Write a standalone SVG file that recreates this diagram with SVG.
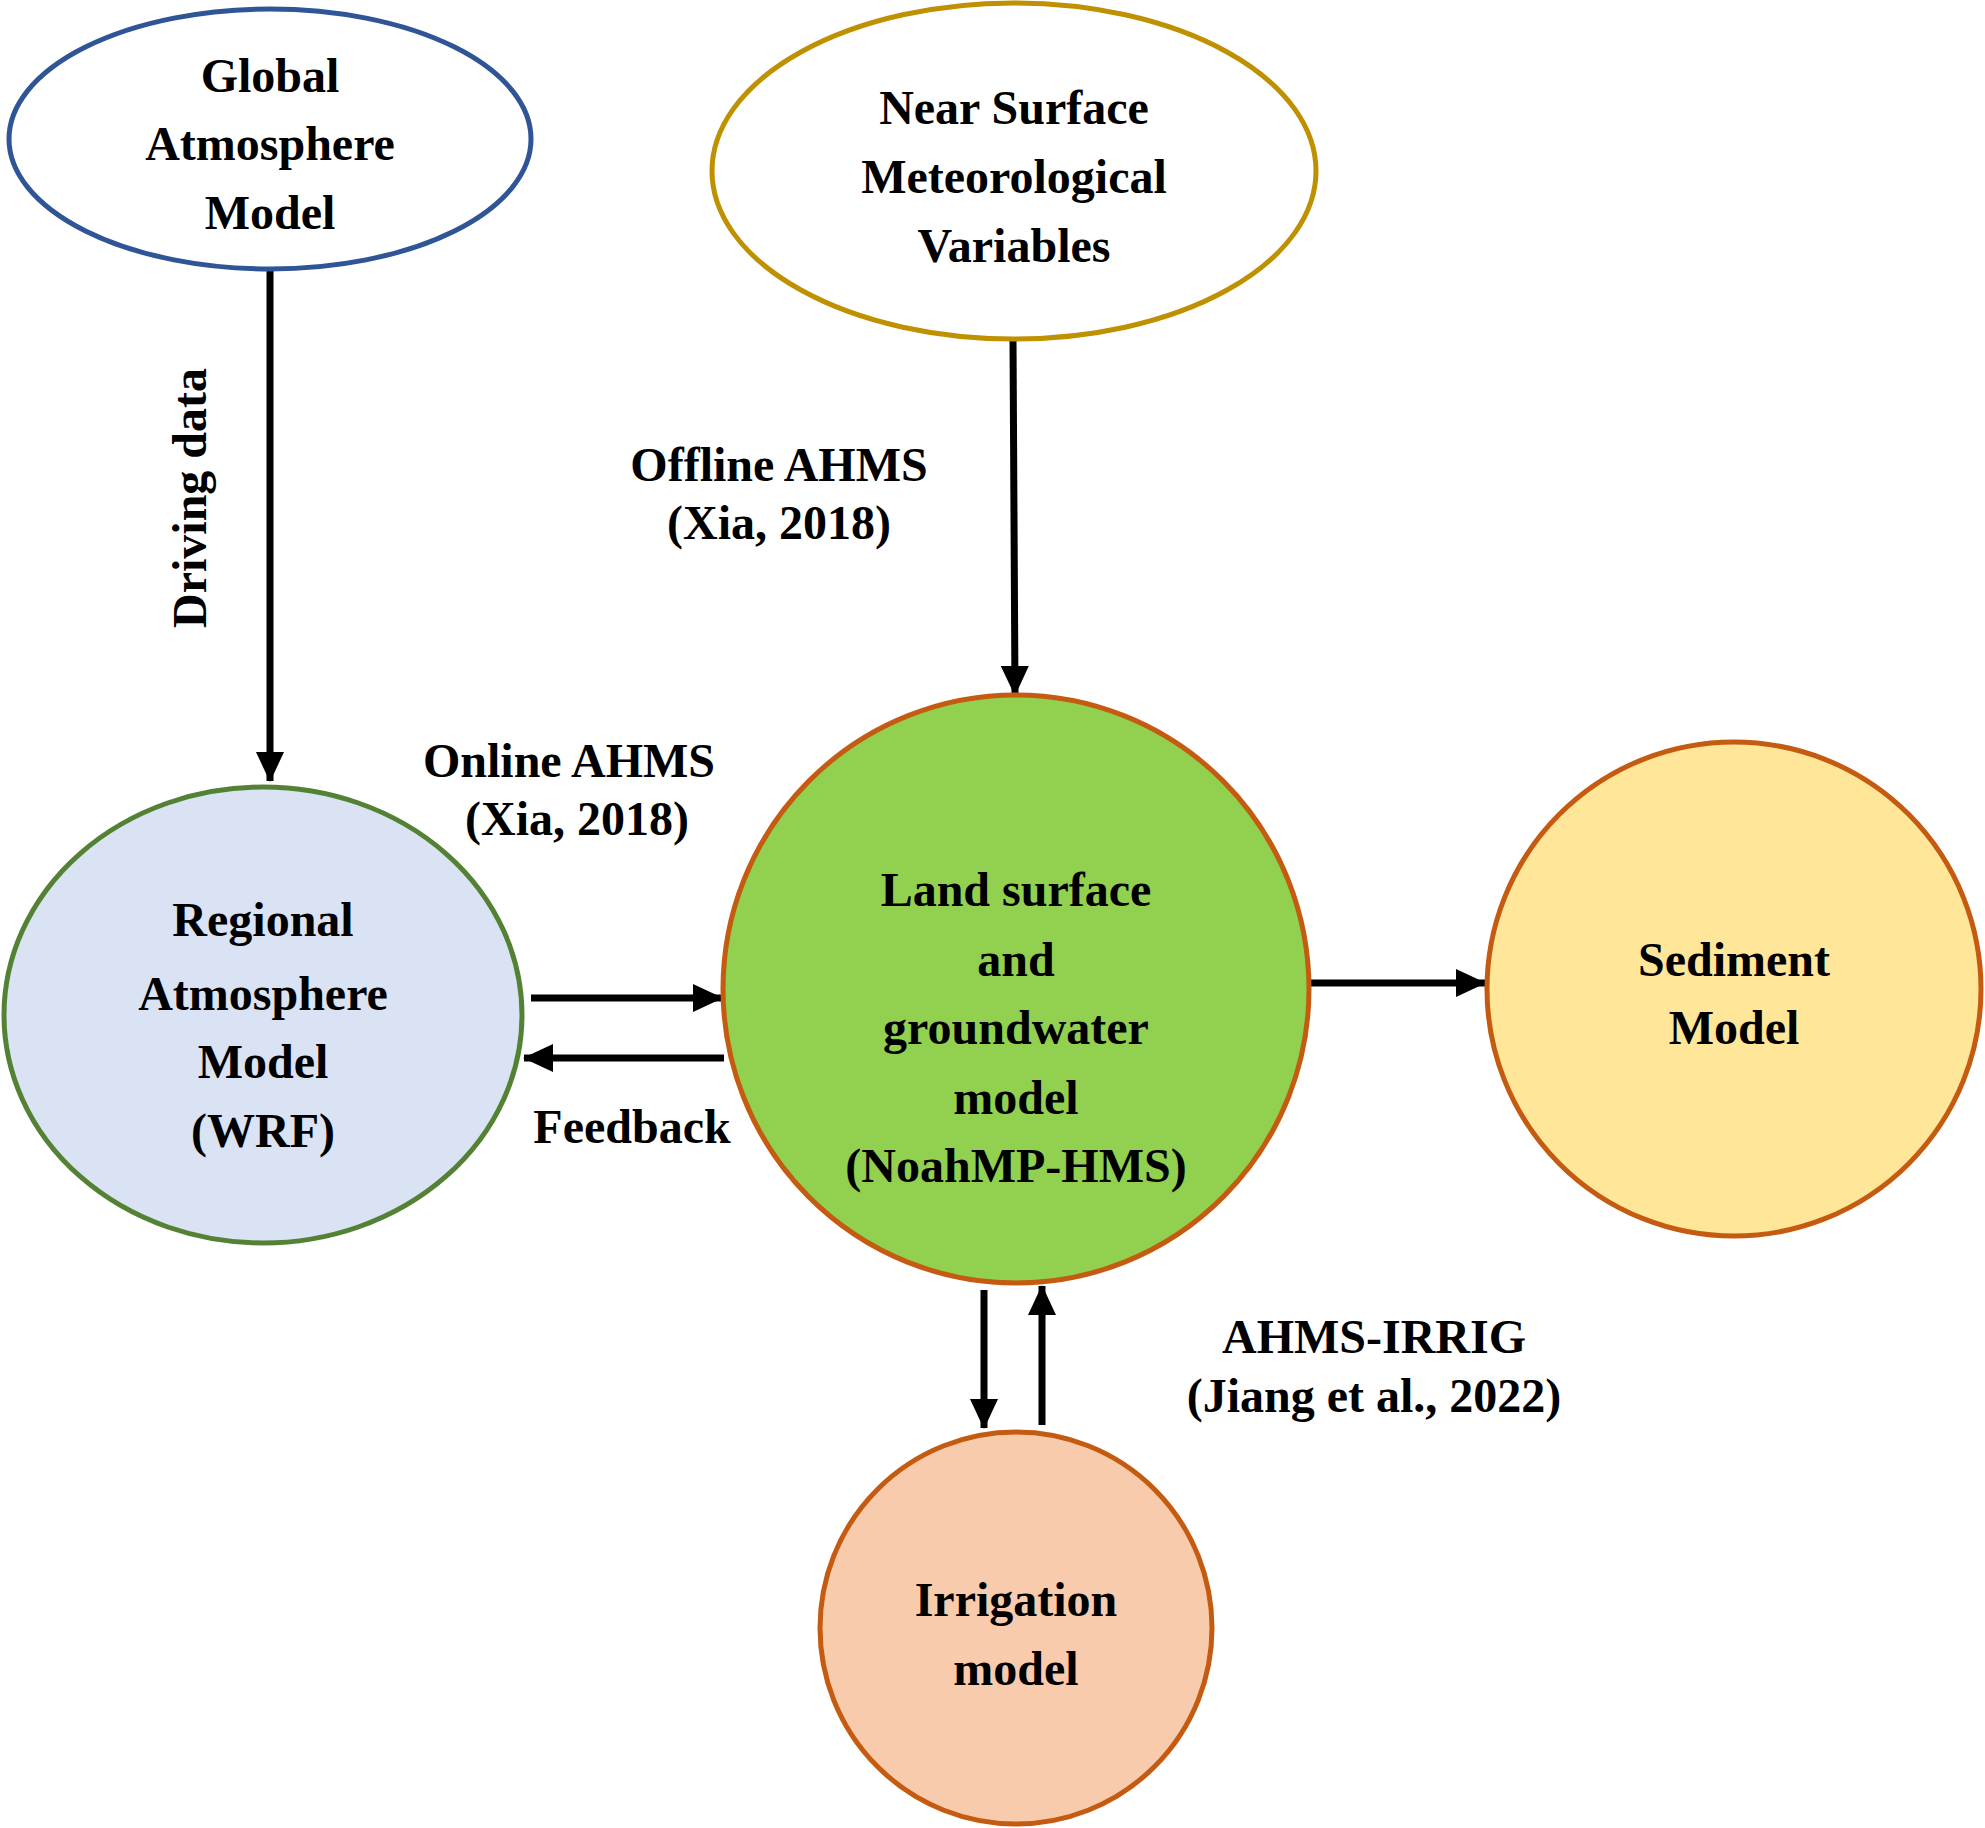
<svg xmlns="http://www.w3.org/2000/svg" width="1985" height="1828" viewBox="0 0 1985 1828">
<style>
text{font-family:"Liberation Serif","Times New Roman",serif;font-weight:bold;font-size:48px;fill:#000;text-anchor:middle}
.c{stroke:#000;stroke-width:7;fill:none}
</style>
<defs>
<marker id="ah" markerUnits="userSpaceOnUse" markerWidth="30" markerHeight="28" refX="29" refY="14" orient="auto">
<path d="M0,0 L30,14 L0,28 z" fill="#000"/>
</marker>
</defs>
<rect width="1985" height="1828" fill="#fff"/>
<g id="connectors">
<line class="c" x1="270" y1="268" x2="270" y2="781" marker-end="url(#ah)"/>
<line class="c" x1="1013" y1="339" x2="1015" y2="695" marker-end="url(#ah)"/>
<line class="c" x1="531" y1="998" x2="722" y2="998" marker-end="url(#ah)"/>
<line class="c" x1="724" y1="1058" x2="524" y2="1058" marker-end="url(#ah)"/>
<line class="c" x1="1309" y1="983" x2="1485" y2="983" marker-end="url(#ah)"/>
<line class="c" x1="984" y1="1290" x2="984" y2="1428" marker-end="url(#ah)"/>
<line class="c" x1="1042" y1="1425" x2="1042" y2="1286" marker-end="url(#ah)"/>
</g>
<g id="labels">
<text transform="translate(206,498) rotate(-90)">Driving data</text>
<text x="779" y="481">Offline AHMS</text>
<text x="779" y="539">(Xia, 2018)</text>
<text x="569" y="777">Online AHMS</text>
<text x="577" y="835">(Xia, 2018)</text>
<text x="632" y="1143">Feedback</text>
<text x="1374" y="1353">AHMS-IRRIG</text>
<text x="1374" y="1412">(Jiang et al., 2022)</text>
</g>
<g id="global">
<ellipse cx="270" cy="139" rx="261" ry="130" fill="#fff" stroke="#2F5597" stroke-width="5"/>
<text x="270" y="92">Global</text>
<text x="270" y="160">Atmosphere</text>
<text x="270" y="229">Model</text>
</g>
<g id="nearsurface">
<ellipse cx="1014" cy="171" rx="302" ry="168" fill="#fff" stroke="#BF9000" stroke-width="5"/>
<text x="1014" y="124">Near Surface</text>
<text x="1014" y="193">Meteorological</text>
<text x="1014" y="262">Variables</text>
</g>
<g id="regional">
<ellipse cx="263" cy="1015" rx="259" ry="228" fill="#DAE3F3" stroke="#548235" stroke-width="5"/>
<text x="263" y="936">Regional</text>
<text x="263" y="1010">Atmosphere</text>
<text x="263" y="1078">Model</text>
<text x="263" y="1147">(WRF)</text>
</g>
<g id="landsurface">
<ellipse cx="1016" cy="989" rx="293" ry="294" fill="#92D050" stroke="#C55A11" stroke-width="5"/>
<text x="1016" y="906">Land surface</text>
<text x="1016" y="976">and</text>
<text x="1016" y="1044">groundwater</text>
<text x="1016" y="1114">model</text>
<text x="1016" y="1182">(NoahMP-HMS)</text>
</g>
<g id="sediment">
<ellipse cx="1734" cy="989" rx="247" ry="247" fill="#FFE699" stroke="#C55A11" stroke-width="5"/>
<text x="1734" y="976">Sediment</text>
<text x="1734" y="1044">Model</text>
</g>
<g id="irrigation">
<ellipse cx="1016" cy="1628" rx="196" ry="196" fill="#F8CBAD" stroke="#C55A11" stroke-width="5"/>
<text x="1016" y="1616">Irrigation</text>
<text x="1016" y="1685">model</text>
</g>
</svg>
